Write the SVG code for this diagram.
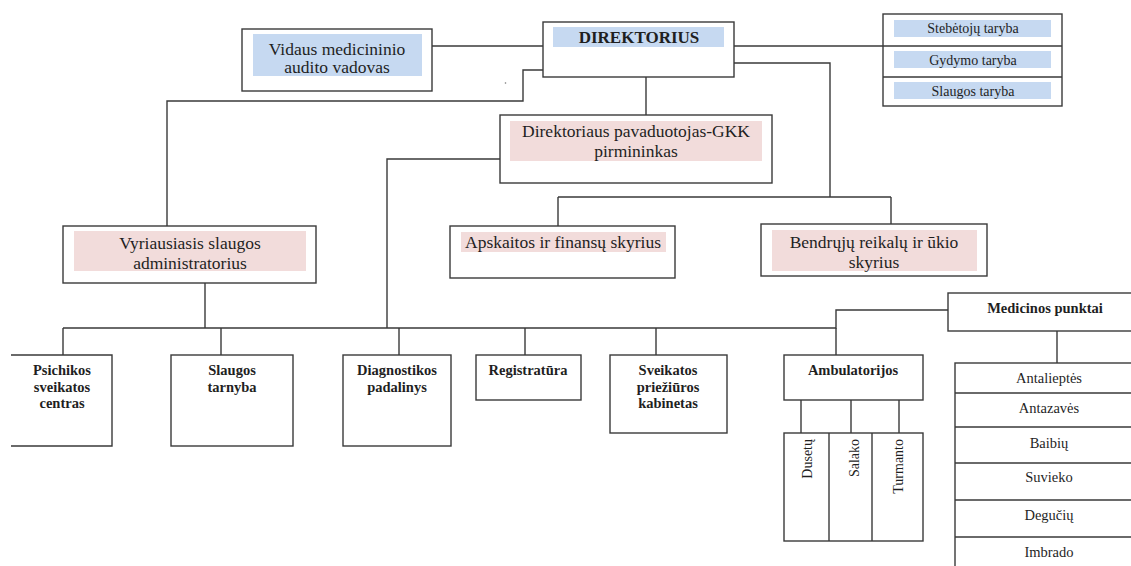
<svg xmlns="http://www.w3.org/2000/svg" width="1131" height="566" viewBox="0 0 1131 566">
<style>
.box{fill:#fff;stroke:#3a3a3a;stroke-width:1.4}
.blue{fill:#c6d9f1}
.pink{fill:#f2dcdb}
.t{font-family:'Liberation Serif','Times New Roman','DejaVu Serif',serif;fill:#1f1f1f;text-anchor:middle}
.l{font-size:17.5px}
.s{font-size:14.5px}
.b{font-size:14.5px;font-weight:bold}
.c{fill:none;stroke:#3a3a3a;stroke-width:1.4}
</style>
<rect width="1131" height="566" fill="#fff"/>
<g id="connectors">
<path class="c" d="M432,46 H543"/>
<path class="c" d="M734,46 H883"/>
<path class="c" d="M543,70 H523 V101 H167 V226"/>
<path class="c" d="M734,63 H830 V197"/>
<path class="c" d="M558,197 H891 M558,197 V226 M891,197 V224"/>
<path class="c" d="M646,77 V115"/>
<path class="c" d="M500,159 H387 V328"/>
<path class="c" d="M205,283 V328"/>
<path class="c" d="M63,328 H836 V310 H948"/>
<path class="c" d="M63,328 V355 M221,328 V355 M399,328 V355 M525,328 V355 M656,328 V355 M836,328 V355"/>
<path class="c" d="M1057,331 V363"/>
<path class="c" d="M801,400 V433 M851,400 V433 M899,400 V433"/>
</g>
<circle cx="505.5" cy="83" r="0.8" fill="#777"/>
<g id="vidaus">
<rect class="box" x="242" y="29" width="190" height="62"/>
<rect class="blue" x="253" y="34" width="169" height="42"/>
<text class="t l" x="337" y="55" font-family="Liberation Serif, serif">Vidaus medicininio</text>
<text class="t l" x="337" y="73">audito vadovas</text>
</g>
<g id="direktorius">
<rect class="box" x="543" y="22" width="191" height="55"/>
<rect class="blue" x="553" y="27" width="171" height="20"/>
<text class="t" x="639" y="43" style="font-size:17px;font-weight:bold">DIREKTORIUS</text>
</g>
<g id="tarybos">
<rect class="box" x="883" y="14" width="179" height="92"/>
<path class="c" d="M883,46 H1062 M883,77 H1062"/>
<rect class="blue" x="894" y="20" width="157" height="17"/>
<rect class="blue" x="894" y="51" width="157" height="17"/>
<rect class="blue" x="894" y="82" width="157" height="17"/>
<text class="t" x="973" y="33" style="font-size:14px">Stebėtojų taryba</text>
<text class="t" x="973" y="65" style="font-size:14px">Gydymo taryba</text>
<text class="t" x="973" y="96" style="font-size:14px">Slaugos taryba</text>
</g>
<g id="pavaduotojas">
<rect class="box" x="500" y="115" width="272" height="68"/>
<rect class="pink" x="510" y="121" width="252" height="40"/>
<text class="t l" x="636" y="137">Direktoriaus pavaduotojas-GKK</text>
<text class="t l" x="636" y="157">pirmininkas</text>
</g>
<g id="vyriausiasis">
<rect class="box" x="63" y="226" width="253" height="57"/>
<rect class="pink" x="74" y="231" width="232" height="40"/>
<text class="t l" x="190" y="249">Vyriausiasis slaugos</text>
<text class="t l" x="190" y="269">administratorius</text>
</g>
<g id="apskaitos">
<rect class="box" x="450" y="226" width="225" height="52"/>
<rect class="pink" x="461" y="232" width="205" height="20"/>
<text class="t l" x="563" y="248">Apskaitos ir finansų skyrius</text>
</g>
<g id="bendruju">
<rect class="box" x="761" y="224" width="226" height="52"/>
<rect class="pink" x="772" y="230" width="205" height="41"/>
<text class="t l" x="874" y="248">Bendrųjų reikalų ir ūkio</text>
<text class="t l" x="874" y="268">skyrius</text>
</g>
<g id="psichikos">
<path class="c" d="M11,355 H112 V446 H11"/>
<text class="t b" x="62" y="375">Psichikos</text>
<text class="t b" x="62" y="392">sveikatos</text>
<text class="t b" x="62" y="408">centras</text>
</g>
<g id="slaugos-tarnyba">
<rect class="box" x="171" y="355" width="122" height="91"/>
<text class="t b" x="232" y="375">Slaugos</text>
<text class="t b" x="232" y="392">tarnyba</text>
</g>
<g id="diagnostikos">
<rect class="box" x="343" y="355" width="108" height="91"/>
<text class="t b" x="397" y="375">Diagnostikos</text>
<text class="t b" x="397" y="392">padalinys</text>
</g>
<g id="registratura">
<rect class="box" x="476" y="355" width="105" height="45"/>
<text class="t b" x="528" y="375">Registratūra</text>
</g>
<g id="sveikatos">
<rect class="box" x="610" y="355" width="117" height="78"/>
<text class="t b" x="668" y="375">Sveikatos</text>
<text class="t b" x="668" y="392">priežiūros</text>
<text class="t b" x="668" y="408">kabinetas</text>
</g>
<g id="ambulatorijos">
<rect class="box" x="784" y="355" width="139" height="45"/>
<text class="t b" x="853" y="375">Ambulatorijos</text>
</g>
<g id="ambulatorijos-sarasas">
<rect class="box" x="784" y="433" width="139" height="108"/>
<path class="c" d="M829,433 V541 M872,433 V541"/>
<text class="t" transform="translate(812,439) rotate(-90)" style="font-size:14px;text-anchor:end">Dusetų</text>
<text class="t" transform="translate(859,439) rotate(-90)" style="font-size:14px;text-anchor:end">Salako</text>
<text class="t" transform="translate(903,439) rotate(-90)" style="font-size:14px;text-anchor:end">Turmanto</text>
</g>
<g id="medicinos">
<rect class="box" x="948" y="293" width="200" height="38"/>
<text class="t b" x="1045" y="313">Medicinos punktai</text>
</g>
<g id="medicinos-sarasas">
<rect class="box" x="955" y="363" width="200" height="220"/>
<path class="c" d="M955,393 H1131 M955,427 H1131 M955,463 H1131 M955,500 H1131 M955,537 H1131"/>
<text class="t s" x="1049" y="383">Antalieptės</text>
<text class="t s" x="1049" y="413">Antazavės</text>
<text class="t s" x="1049" y="448">Baibių</text>
<text class="t s" x="1049" y="482">Suvieko</text>
<text class="t s" x="1049" y="557">Imbrado</text>
<text class="t s" x="1049" y="520">Degučių</text>
</g>
</svg>
